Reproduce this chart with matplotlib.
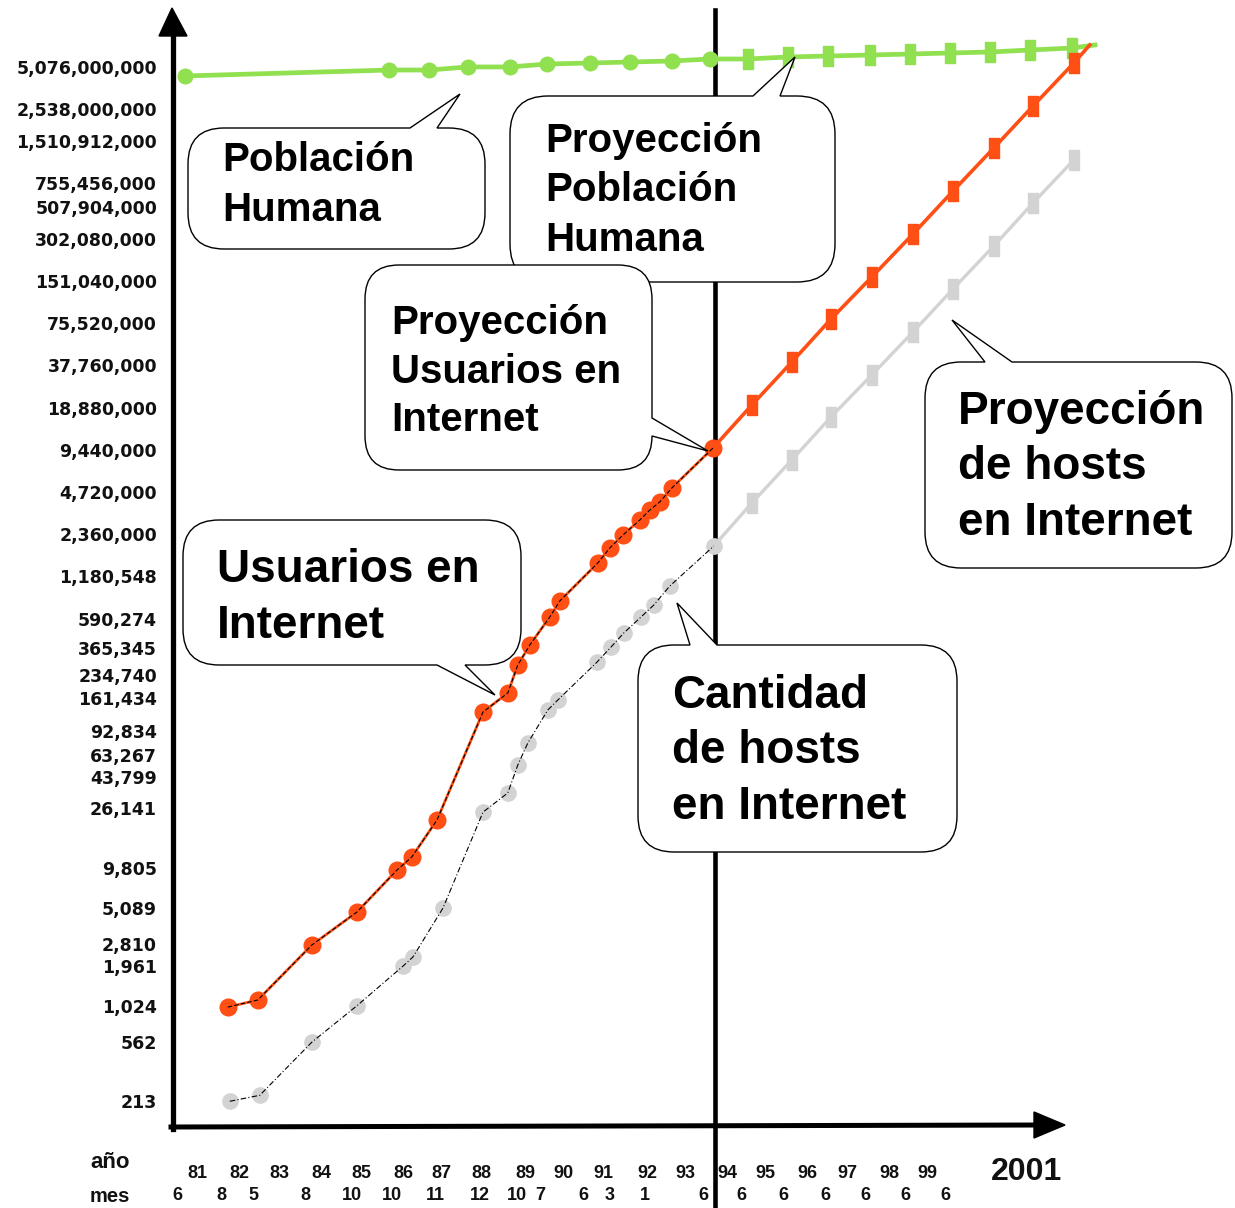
import matplotlib

matplotlib.use("Agg")
import matplotlib.pyplot as plt
from matplotlib import transforms
from matplotlib.lines import Line2D
from matplotlib.patches import PathPatch, Polygon
from matplotlib.path import Path
from matplotlib.ticker import NullLocator

# años en dos dígitos, la fracción es el mes aproximado
anio_usuarios = [82.37, 83.12, 84.47, 85.6, 86.6, 86.97, 87.6, 88.75, 89.37, 89.62, 89.92,
                 90.42, 90.67, 91.62, 91.92, 92.25, 92.67, 92.92, 93.17, 93.47, 94.5]
usuarios = [1000, 1124, 2770, 4770, 9500, 11770, 21600, 127300, 174000, 275600, 382500,
            606000, 788000, 1471000, 1882000, 2330000, 2980000, 3510000, 4010000, 5040000, 9720000]
anio_usuarios_proy = [95.47, 96.47, 97.45, 98.47, 99.5, 100.5, 101.52, 102.5, 103.52, 103.92]
usuarios_proy = [19.7e6, 39.9e6, 80.9e6, 161.3e6, 327e6, 662e6, 1342e6, 2675e6, 5420e6, 7290e6]

anio_hosts = [82.42, 83.17, 84.47, 85.6, 86.75, 87.0, 87.75, 88.75, 89.37, 89.62,
              89.87, 90.37, 90.62, 91.6, 91.95, 92.27, 92.7, 93.02, 93.42, 94.52]
hosts = [213, 235, 562, 1024, 1961, 2280, 5089, 24600, 33700, 53300,
         76500, 131600, 155000, 289000, 370000, 466000, 606000, 738000, 1008000, 1945000]
anio_hosts_proy = [95.47, 96.47, 97.45, 98.47, 99.5, 100.5, 101.52, 102.5, 103.52]
hosts_proy = [3.94e6, 7.99e6, 16.2e6, 32.3e6, 65.4e6, 132.4e6, 268.5e6, 544e6, 1102e6]

anio_poblacion = [81.3, 86.4, 87.4, 88.37, 89.42, 90.35, 91.42, 92.42, 93.47, 94.42]
poblacion = [4.38e9, 4.83e9, 4.83e9, 5.08e9, 5.08e9, 5.33e9, 5.42e9, 5.51e9, 5.60e9, 5.79e9]
anio_poblacion_proy = [95.37, 96.37, 97.37, 98.42, 99.42, 100.42, 101.42, 102.42, 103.47, 104.05]
poblacion_proy = [5.79e9, 5.98e9, 6.08e9, 6.18e9, 6.28e9, 6.39e9, 6.49e9, 6.71e9, 6.93e9, 7.29e9]

y_ticks = [5076000000, 2538000000, 1510912000, 755456000, 507904000, 302080000, 151040000,
           75520000, 37760000, 18880000, 9440000, 4720000, 2360000, 1180548, 590274, 365345,
           234740, 161434, 92834, 63267, 43799, 26141, 9805, 5089, 2810, 1961, 1024, 562, 213]

anio_labels = ["81", "82", "83", "84", "85", "86", "87", "88", "89", "90",
               "91", "92", "93", "94", "95", "96", "97", "98", "99"]
anio_pos = [81.62, 82.67, 83.67, 84.72, 85.72, 86.75, 87.72, 88.72, 89.8, 90.75,
            91.75, 92.85, 93.8, 94.85, 95.8, 96.85, 97.85, 98.92, 99.85]
mes_labels = ["6", "8", "5", "8", "10", "10", "11", "12", "10", "7",
              "6", "3", "1", "6", "6", "6", "6", "6", "6", "6"]
mes_pos = [81.1, 82.22, 83.0, 84.3, 85.47, 86.47, 87.55, 88.67, 89.6, 90.17,
           91.25, 91.92, 92.8, 94.25, 95.22, 96.25, 97.3, 98.3, 99.3, 100.3]
linea_1994 = 94.55

W, H = 1235, 1208
X_AXIS_PX = 173
Y_AXIS_PX = 1127

NARANJA = "#ff4f14"
GRIS = "#d3d3d3"
VERDE = "#90e050"
BOLD = {"family": ["Liberation Sans", "DejaVu Sans"], "weight": "bold"}

fig = plt.figure(figsize=(W / 100, H / 100), dpi=100)
fig.patch.set_facecolor("white")
ax = fig.add_axes([X_AXIS_PX / W, (H - Y_AXIS_PX) / H, (W - X_AXIS_PX) / W, Y_AXIS_PX / H])
px = transforms.Affine2D().scale(1 / W, -1 / H).translate(0, 1) + fig.transFigure

ax.set_yscale("log")
ax.set_xlim(81, 81 + (W - X_AXIS_PX) / 40)
ax.set_ylim(10 ** (9.7055 - (Y_AXIS_PX - 67) / 140.2), 10 ** (9.7055 + 67 / 140.2))
for spine in ax.spines.values():
    spine.set_visible(False)
ax.set_xticks([])
ax.yaxis.set_minor_locator(NullLocator())
ax.set_yticks(y_ticks, labels=[f"{v:,}" for v in y_ticks])
ax.tick_params(axis="y", length=0, pad=11.5, labelsize=12.5)
for lab in ax.get_yticklabels():
    lab.set_fontweight("bold")
    lab.set_color("#111111")

tall = Path([(-0.5, -1), (0.5, -1), (0.5, 1), (-0.5, 1), (-0.5, -1)], closed=True)

# población humana
ax.plot(anio_poblacion, poblacion, color=VERDE, lw=3.4, marker="o", ms=10.5,
        zorder=6, clip_on=False)
xs = anio_poblacion[-1:] + anio_poblacion_proy
ys = poblacion[-1:] + poblacion_proy
ax.plot(xs, ys, color=VERDE, lw=3.4, marker=tall, ms=15,
        markevery=list(range(1, len(xs) - 1)), zorder=6, clip_on=False)

# usuarios en internet
ax.plot(anio_usuarios, usuarios, color=NARANJA, lw=2.0, marker="o", ms=12, zorder=6)
ax.plot(anio_usuarios, usuarios, color="black", lw=0.8, ls=(0, (4, 2)), zorder=6.5)
xs = anio_usuarios[-1:] + anio_usuarios_proy
ys = usuarios[-1:] + usuarios_proy
ax.plot(xs, ys, color=NARANJA, lw=2.6, marker=tall, ms=15,
        markevery=list(range(1, len(xs) - 1)), zorder=6, clip_on=False)

# hosts en internet
ax.plot(anio_hosts, hosts, color=GRIS, lw=0, marker="o", ms=11, zorder=6)
ax.plot(anio_hosts, hosts, color="black", lw=0.8, ls=(0, (5, 2, 1, 2)), zorder=6.5)
xs = anio_hosts[-1:] + anio_hosts_proy
ys = hosts[-1:] + hosts_proy
ax.plot(xs, ys, color=GRIS, lw=2.4, marker=tall, ms=15, markevery=list(range(1, len(xs))),
        zorder=6, clip_on=False)

# ejes con flechas
fig.add_artist(Line2D([X_AXIS_PX, X_AXIS_PX], [Y_AXIS_PX + 2, 34], transform=px, color="black", lw=3.8))
fig.add_artist(Polygon([(X_AXIS_PX - 14, 36), (X_AXIS_PX + 14, 36), (X_AXIS_PX - 1, 8)],
                       closed=True, transform=px, color="black"))
fig.add_artist(Line2D([X_AXIS_PX - 2, 1040], [Y_AXIS_PX, 1125], transform=px, color="black", lw=3.6))
fig.add_artist(Polygon([(1034, 1112), (1034, 1138), (1065, 1125)],
                       closed=True, transform=px, color="black"))

blend = transforms.blended_transform_factory(ax.transData, px)
ax.add_line(Line2D([linea_1994, linea_1994], [10, H], transform=blend, color="black",
                   lw=3.3, zorder=2, clip_on=False))

# etiquetas del eje x
for lab, x in zip(anio_labels, anio_pos):
    ax.text(x, 1173, lab, transform=blend, ha="center", va="center", fontsize=13,
            color="#111111", clip_on=False, **BOLD)
for lab, x in zip(mes_labels, mes_pos):
    ax.text(x, 1196, lab, transform=blend, ha="center", va="center", fontsize=13,
            color="#111111", clip_on=False, **BOLD)
fig.text(110 / W, 1 - 1163 / H, "año", ha="center", va="center", fontsize=16, color="#111111", **BOLD)
fig.text(110 / W, 1 - 1197 / H, "mes", ha="center", va="center", fontsize=14.5, color="#111111", **BOLD)
fig.text(1027 / W, 1 - 1172 / H, "2001", ha="center", va="center", fontsize=23, color="#111111", **BOLD)


def bubble(left, top, right, bottom, r, side, b1, b2, tip):
    verts, codes = [], []

    def add(p, code):
        verts.append(p)
        codes.append(code)

    def corner(c, p):
        add(c, Path.CURVE3)
        add(p, Path.CURVE3)

    add((left + r, top), Path.MOVETO)
    if side == "top":
        add((b1, top), Path.LINETO)
        add(tip, Path.LINETO)
        add((b2, top), Path.LINETO)
    add((right - r, top), Path.LINETO)
    corner((right, top), (right, top + r))
    if side == "right":
        add((right, b1), Path.LINETO)
        add(tip, Path.LINETO)
        add((right, b2), Path.LINETO)
    add((right, bottom - r), Path.LINETO)
    corner((right, bottom), (right - r, bottom))
    if side == "bottom":
        add((b2, bottom), Path.LINETO)
        add(tip, Path.LINETO)
        add((b1, bottom), Path.LINETO)
    add((left + r, bottom), Path.LINETO)
    corner((left, bottom), (left, bottom - r))
    add((left, top + r), Path.LINETO)
    corner((left, top), (left + r, top))
    add((left + r, top), Path.CLOSEPOLY)
    fig.add_artist(PathPatch(Path(verts, codes), transform=px, facecolor="white",
                             edgecolor="black", lw=1.0, zorder=5))


def bubble_text(x, baselines, lines, size):
    for y, txt in zip(baselines, lines):
        fig.text(x / W, 1 - y / H, txt, ha="left", va="baseline", fontsize=size,
                 color="black", zorder=7, **BOLD)


bubble(188, 128, 485, 249, 36, "top", 410, 437, (460, 94))
bubble_text(222, [171, 221], ["Población", "Humana"], 29)

bubble(510, 96, 835, 282, 38, "top", 753, 780, (795, 57))
bubble_text(545, [152, 201, 251], ["Proyección", "Población", "Humana"], 29)

bubble(365, 265, 652, 470, 34, "right", 418, 436, (708, 451))
bubble_text(391, [334, 383, 431], ["Proyección", "Usuarios en", "Internet"], 29)

bubble(183, 520, 521, 665, 36, "bottom", 437, 465, (495, 695))
bubble_text(217, [582, 638], ["Usuarios en", "Internet"], 33)

bubble(638, 645, 957, 852, 36, "top", 690, 717, (677, 603))
bubble_text(672, [708, 763, 819], ["Cantidad", "de hosts", "en Internet"], 33)

bubble(925, 362, 1232, 568, 36, "top", 985, 1012, (952, 320))
bubble_text(958, [424, 479, 535], ["Proyección", "de hosts", "en Internet"], 33)

fig.savefig("out.png", dpi=100, facecolor="white")
